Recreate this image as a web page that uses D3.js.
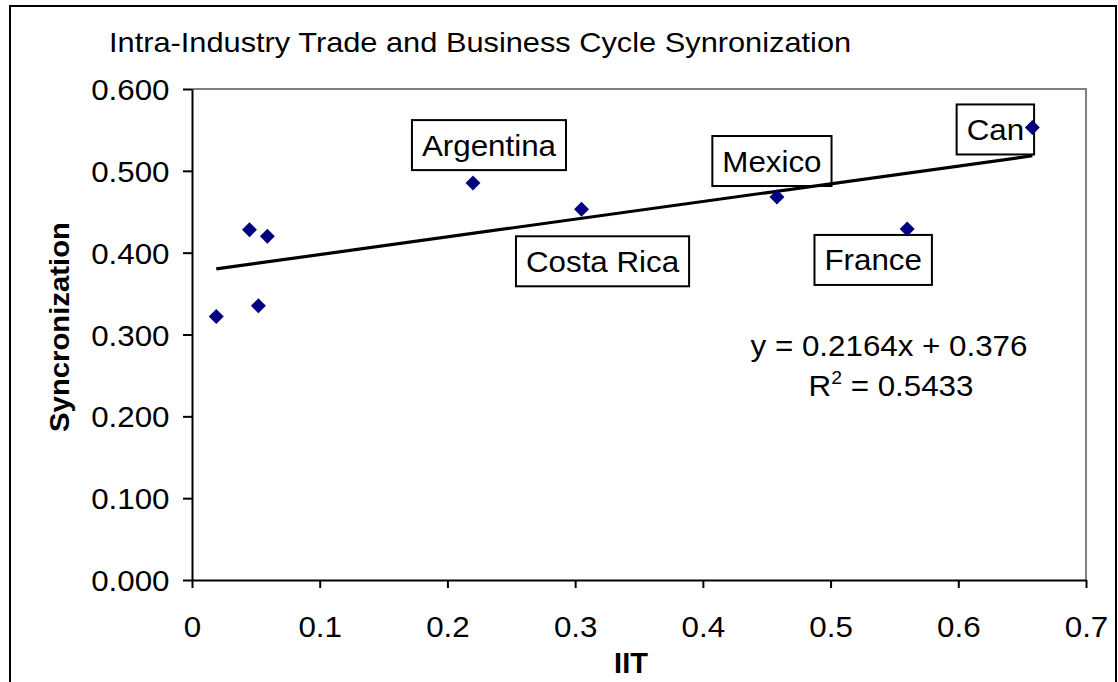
<!DOCTYPE html>
<html>
<head>
<meta charset="utf-8">
<script src="https://cdn.jsdelivr.net/npm/d3@7"></script>
<style>
  html, body { margin: 0; padding: 0; background: #fff; }
  svg { display: block; }
  text { font-family: "Liberation Sans", Arial, sans-serif; fill: #000; }
</style>
</head>
<body>
<svg id="chart" width="1118" height="682"></svg>
<script>
// ---- data ----
const iit      = [0.019, 0.045, 0.052, 0.059, 0.220, 0.305, 0.458, 0.560, 0.658];
const syncVals = [0.322, 0.428, 0.335, 0.420, 0.485, 0.453, 0.468, 0.429, 0.553];
const pointLabels = ["", "", "", "", "Argentina", "Costa Rica", "Mexico", "France", "Can"];
const xTicks = [0, 0.1, 0.2, 0.3, 0.4, 0.5, 0.6, 0.7];
const xTickLabels = ["0", "0.1", "0.2", "0.3", "0.4", "0.5", "0.6", "0.7"];
const yTicks = [0, 0.1, 0.2, 0.3, 0.4, 0.5, 0.6];
const yTickLabels = ["0.000", "0.100", "0.200", "0.300", "0.400", "0.500", "0.600"];
const trendSlope = 0.2164;
const trendIntercept = 0.376;
const rSquared = 0.5433;
const titleText = "Intra-Industry Trade and Business Cycle Synronization";
const xTitle = "IIT";
const yTitle = "Syncronization";

// ---- layout (label box centre offsets from point, px) ----
const labelOffsets = [null, null, null, null, [16, -38], [21, 52], [-5, -36], [-34, 31], [-37, 2]];

const svg = d3.select("#chart");
const W = 1118, H = 682;
const plot = { left: 192, right: 1086, top: 89, bottom: 580 };
const SX = 1.08;

const x = d3.scaleLinear().domain([0, 0.7]).range([plot.left, plot.right]);
const y = d3.scaleLinear().domain([0, 0.6]).range([plot.bottom, plot.top]);

function txt(parent, px, py, str, size, opts = {}) {
  const g = parent.append("g")
    .attr("transform", `translate(${px},${py}) scale(${opts.sx || SX},1)`);
  const t = g.append("text")
    .attr("text-anchor", opts.anchor || "start")
    .style("font-size", size + "px")
    .style("font-weight", opts.weight || "normal")
    .text(str);
  return { g, t };
}

// background + outer border
svg.append("rect").attr("x", 0).attr("y", 0).attr("width", W).attr("height", H).attr("fill", "#fff");
svg.append("rect").attr("x", 10).attr("y", 6).attr("width", 1106).attr("height", 700)
  .attr("fill", "none").attr("stroke", "#000").attr("stroke-width", 2);

// plot frame (grey top/right)
svg.append("path")
  .attr("d", `M${plot.left},${plot.top}H${plot.right}V${plot.bottom}`)
  .attr("fill", "none").attr("stroke", "#808080").attr("stroke-width", 2);

// title
txt(svg, 109, 52, titleText, 27, { sx: 1.14 });

// y axis
const yAxis = svg.append("g").attr("transform", `translate(${plot.left},0)`)
  .call(d3.axisLeft(y).tickValues(yTicks).tickFormat((d, i) => yTickLabels[i]).tickSize(9).tickSizeOuter(0));
yAxis.select(".domain").attr("stroke", "#000").attr("stroke-width", 2);
yAxis.selectAll(".tick line").attr("stroke", "#000").attr("stroke-width", 2);
yAxis.selectAll(".tick text")
  .attr("x", 0).attr("dy", null).attr("fill", "#000")
  .attr("font-family", null).attr("font-size", null)
  .style("font-size", "29px")
  .attr("transform", `translate(-22.5,10.5) scale(${SX},1)`);

// x axis
const xAxis = svg.append("g").attr("transform", `translate(0,${plot.bottom})`)
  .call(d3.axisBottom(x).tickValues(xTicks).tickFormat((d, i) => xTickLabels[i]).tickSize(8).tickSizeOuter(0));
xAxis.select(".domain").attr("stroke", "#000").attr("stroke-width", 2);
xAxis.selectAll(".tick line").attr("stroke", "#000").attr("stroke-width", 2);
xAxis.selectAll(".tick text")
  .attr("y", 0).attr("dy", null).attr("fill", "#000")
  .attr("font-family", null).attr("font-size", null)
  .style("font-size", "29px")
  .attr("transform", `translate(0,56.5) scale(${SX},1)`);

// axis titles
txt(svg, 631, 673, xTitle, 29, { anchor: "middle", weight: "bold", sx: 1.0 });
svg.append("g").attr("transform", `translate(69,327) rotate(-90) scale(1.085,1)`)
  .append("text").attr("text-anchor", "middle")
  .style("font-size", "27px").style("font-weight", "bold").text(yTitle);

const pts = iit.map((v, i) => ({ x: v, y: syncVals[i], label: pointLabels[i], off: labelOffsets[i] }));

// point labels with boxes
pts.filter(d => d.label).forEach(d => {
  const cx = x(d.x) + d.off[0], cy = y(d.y) + d.off[1];
  const g = svg.append("g");
  const rect = g.append("rect").attr("fill", "#fff").attr("stroke", "#000").attr("stroke-width", 2);
  const tg = g.append("g").attr("transform", `translate(${cx},${cy + 10.5}) scale(${SX},1)`);
  const t = tg.append("text").attr("text-anchor", "middle").style("font-size", "29px").text(d.label);
  const w = t.node().getComputedTextLength() * SX + 20;
  rect.attr("x", cx - w / 2).attr("y", cy - 25).attr("width", w).attr("height", 50);
});

// trend line
const xMin = d3.min(iit), xMax = d3.max(iit);
svg.append("line")
  .attr("x1", x(xMin)).attr("y1", y(trendSlope * xMin + trendIntercept))
  .attr("x2", x(xMax)).attr("y2", y(trendSlope * xMax + trendIntercept))
  .attr("stroke", "#000").attr("stroke-width", 3.2);

// points
svg.append("g").selectAll("path").data(pts).join("path")
  .attr("d", d3.symbol().type(d3.symbolSquare).size(112))
  .attr("transform", d => `translate(${x(d.x)},${y(d.y)}) rotate(45)`)
  .attr("fill", "#000080");

// equation
txt(svg, 889, 356, `y = ${trendSlope}x + ${trendIntercept}`, 29, { anchor: "middle" });
const r2 = svg.append("g").attr("transform", `translate(891,396) scale(${SX},1)`)
  .append("text").attr("text-anchor", "middle").style("font-size", "29px");
r2.append("tspan").text("R");
r2.append("tspan").attr("dy", -12).style("font-size", "18px").text("2");
r2.append("tspan").attr("dy", 12).text(` = ${rSquared}`);
</script>
</body>
</html>
